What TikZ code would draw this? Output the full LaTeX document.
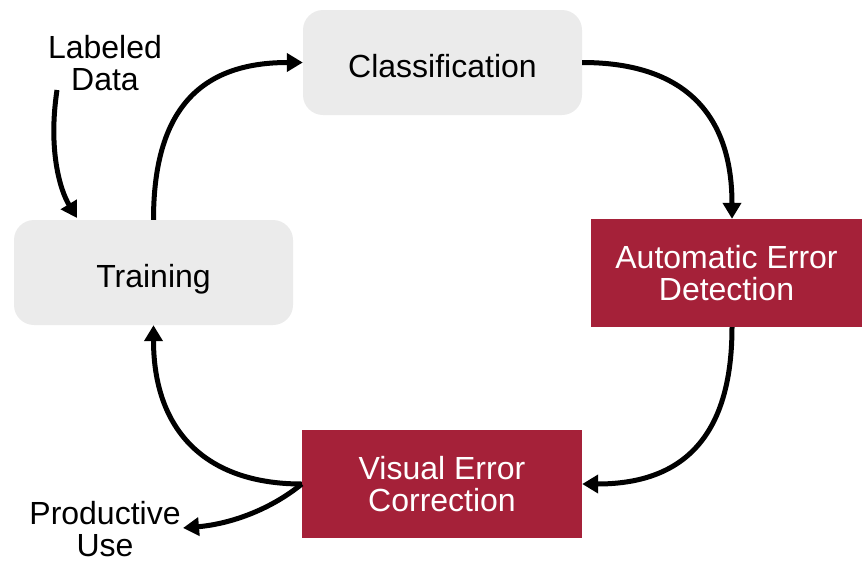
\documentclass[tikz,border=0pt]{standalone}
\usepackage{fontspec}
\setmainfont{Liberation Sans}
\usetikzlibrary{arrows.meta}
\definecolor{boxgray}{HTML}{EBEBEB}
\definecolor{boxred}{HTML}{A52139}
\tikzset{
  graybox/.style={draw=none, fill=boxgray, rounded corners=20pt, minimum width=279pt, minimum height=105pt, inner sep=0pt, text height=29pt, text depth=0pt},
  redbox/.style={draw=none, fill=boxred, text=white, minimum width=271pt, minimum height=108pt, align=center, inner sep=0pt},
  plain/.style={align=center, inner sep=1pt},
  flow/.style={line width=5pt, -{Triangle[length=16pt,width=18pt]}},
}
\begin{document}
\begin{tikzpicture}[x=1pt,y=-1pt]
\fontsize{32}{32.5}\selectfont
\useasboundingbox (0,0) rectangle (862,560);
\node[graybox] (cls) at (442.5,62.5) {Classification};
\node[graybox] (trn) at (153.5,272.5) {Training};
\node[redbox] (aed) at (726.5,273) {Automatic Error\\Detection};
\node[redbox, minimum width=280pt] (vec) at (442,484) {Visual Error\\Correction};
\node[plain] (ld) at (105,63) {Labeled\\Data};
\node[plain] (pu) at (105,529) {Productive\\Use};
\coordinate (ldstart) at (57,90);
\coordinate (putip) at (183,528);
\coordinate (ldtip) at (77,218);
\draw[flow] (trn.north) .. controls (153.5,110) and (200,62.5) .. (cls.west);
\draw[flow] (cls.east) .. controls (680,62.5) and (732,110) .. (aed.north -| 732,0);
\draw[flow] (aed.south -| 732,0) .. controls (732,440) and (680,484) .. (vec.east);
\draw[flow] (vec.west) .. controls (205,484) and (153.5,430) .. (trn.south);
\draw[flow] (vec.west) .. controls (270,510) and (230,524) .. (putip);
\draw[flow] (ldstart) .. controls (48,150) and (60,190) .. (ldtip);
\end{tikzpicture}
\end{document}
